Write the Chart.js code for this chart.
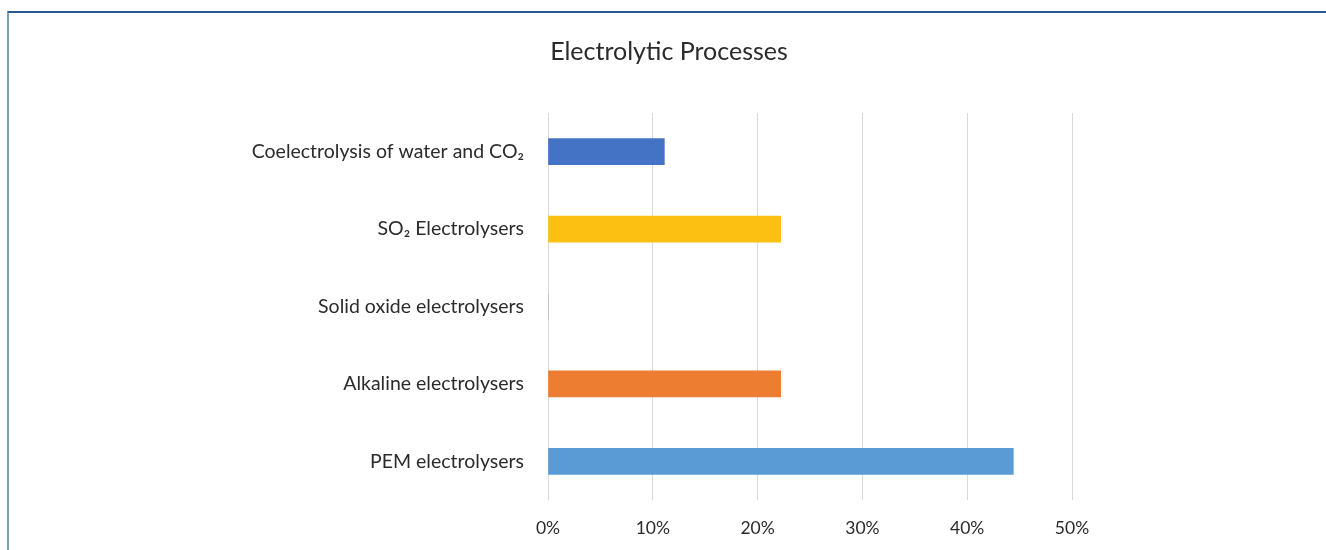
<!DOCTYPE html>
<html>
<head>
<meta charset="utf-8">
<script src="https://cdn.jsdelivr.net/npm/chart.js@4.4.1/dist/chart.umd.min.js"></script>
<style>
    html, body { margin: 0; padding: 0; background: #fff; }
    #wrap { position: relative; width: 1326px; height: 550px; overflow: hidden; }
    #frame {
        position: absolute; left: 7px; top: 11px; right: -10px; bottom: -10px;
        border-top: 2px solid #245a8d; border-left: 2px solid #7a9fba;
        pointer-events: none;
    }
</style>
</head>
<body>
<div id="wrap">
    <canvas id="chart" width="1326" height="550"></canvas>
    <div id="frame"></div>
</div>
<script>
const categories = [
    "Coelectrolysis of water and CO\u2082",
    "SO\u2082 Electrolysers",
    "Solid oxide electrolysers",
    "Alkaline electrolysers",
    "PEM electrolysers"
];
const shares = [11.1, 22.2, 0, 22.2, 44.4];
const barColors = ['#4472c4', '#fcc013', '#a5a5a5', '#ed7d31', '#5b9bd5'];
const xTicks = [0, 10, 20, 30, 40, 50];

const FONT = "Lato, 'Open Sans', sans-serif";
const TEXT = '#2b2b2b';

let processChart;

/**
 * Builds the electrolytic processes chart.
 */
function initProcessChart() {
    const context = document.getElementById('chart').getContext('2d');

    const settings = {
        type: 'bar',
        data: {
            labels: categories,
            datasets: [{
                label: 'Share',
                data: shares,
                backgroundColor: barColors,
                borderWidth: 0,
                barThickness: 26,
            }]
        },
        options: {
            indexAxis: 'y',
            responsive: false,
            animation: false,
            layout: {
                padding: { top: 0, bottom: 0, left: 240, right: 228 }
            },
            plugins: {
                legend: { display: false },
                tooltip: { enabled: false },
                title: {
                    display: true,
                    text: 'Electrolytic Processes',
                    color: TEXT,
                    font: { family: FONT, size: 25, weight: 'normal' },
                    padding: { top: 37, bottom: 46 }
                }
            },
            scales: {
                x: {
                    min: 0,
                    // a little room past the last gridline, like the original
                    max: 52.48,
                    afterBuildTicks: (axis) => {
                        axis.ticks = xTicks.map(v => ({ value: v }));
                    },
                    afterFit: (axis) => { axis.height = 50; },
                    grid: { color: '#d9d9d9', lineWidth: 1, drawTicks: false },
                    border: { display: false },
                    ticks: {
                        padding: 18,
                        color: TEXT,
                        font: { family: FONT, size: 17.5 },
                        callback: (v) => v + '%'
                    }
                },
                y: {
                    afterFit: (axis) => { axis.width = 308; },
                    grid: { display: false, drawTicks: false },
                    border: { display: false },
                    ticks: {
                        padding: 24,
                        color: TEXT,
                        font: { family: FONT, size: 19.5 }
                    }
                }
            }
        }
    };

    processChart = new Chart(context, settings);
}

initProcessChart();
</script>
</body>
</html>
